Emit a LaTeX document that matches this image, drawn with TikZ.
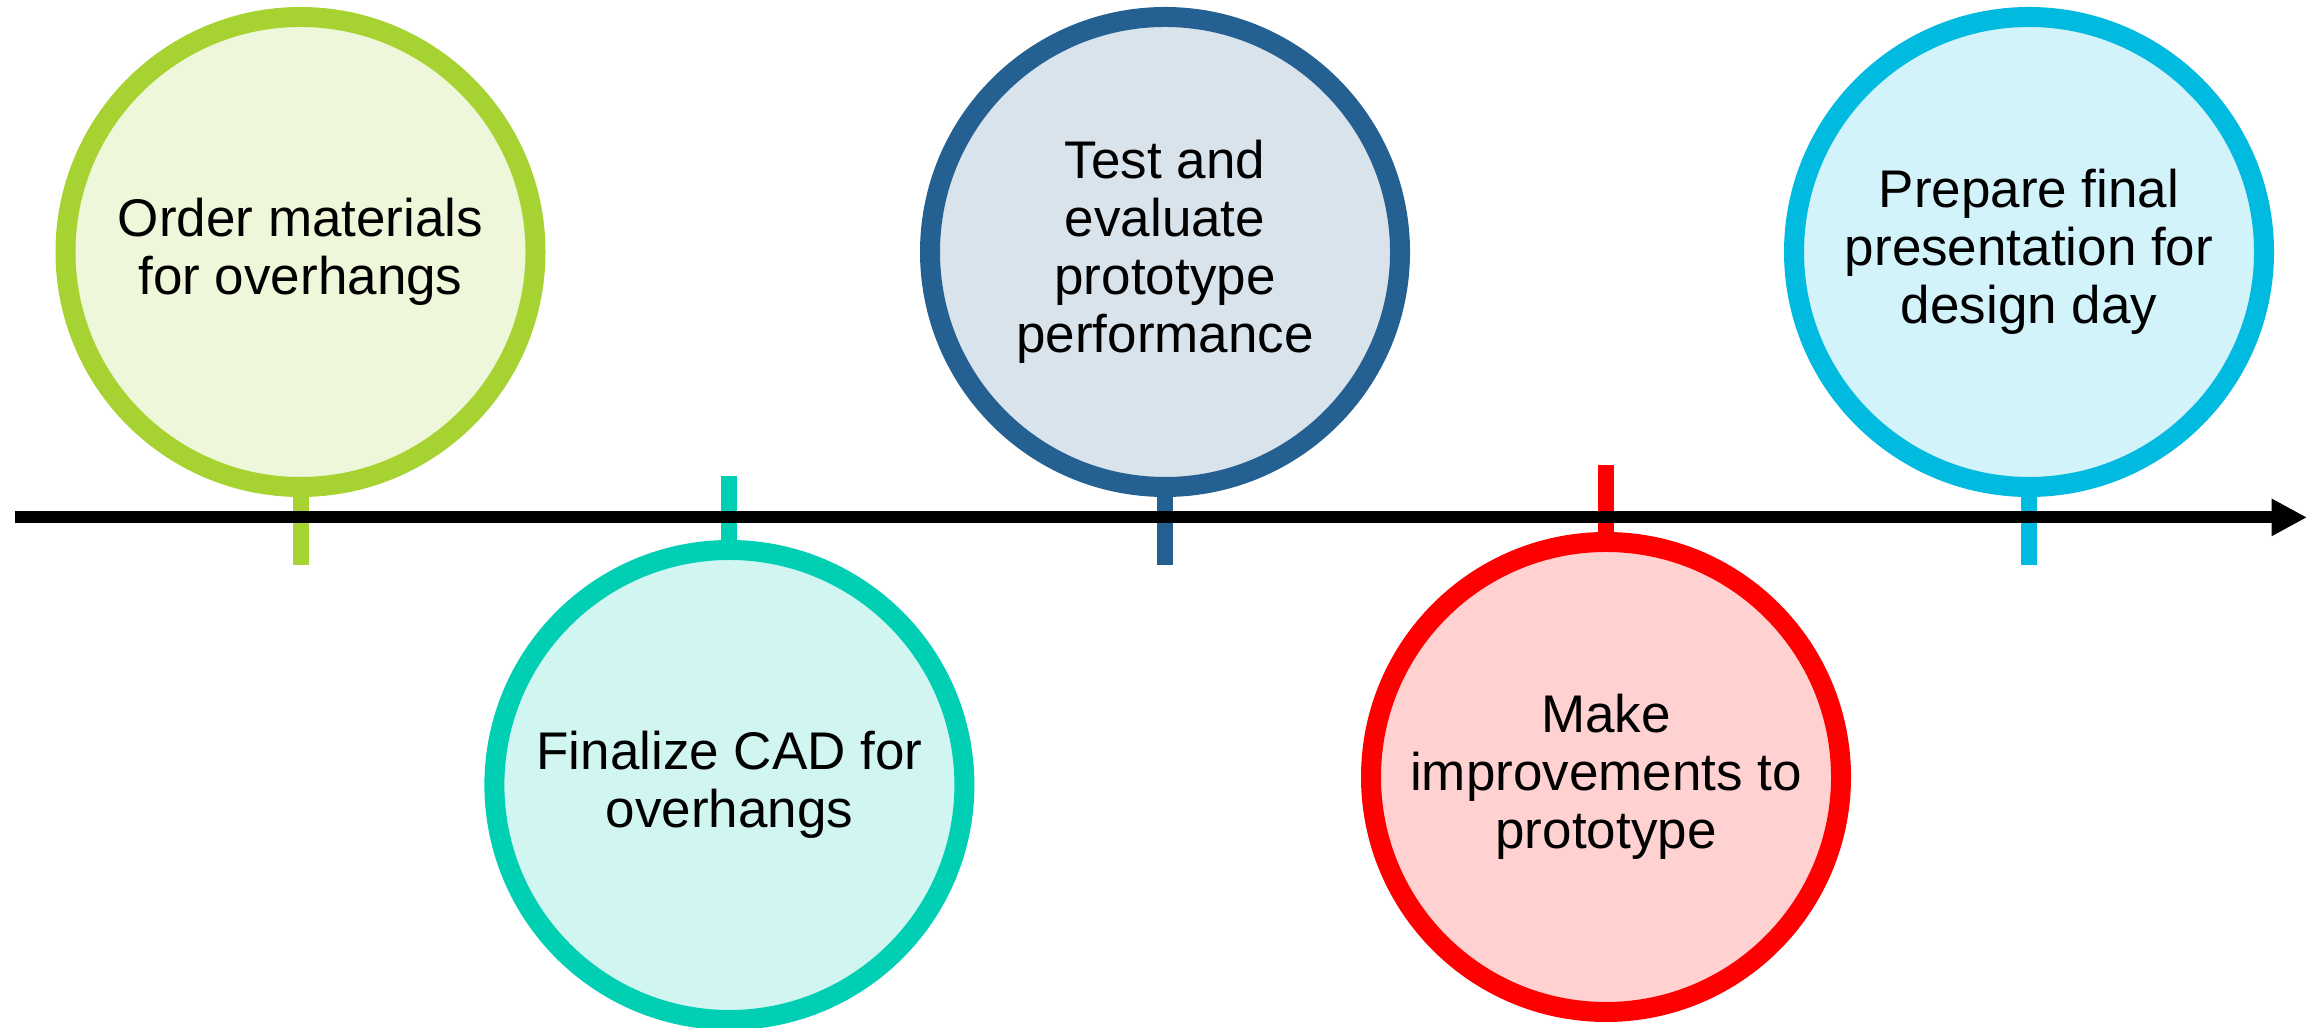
\documentclass[tikz,border=0pt]{standalone}
\usepackage{fontspec}
\setmainfont{Liberation Sans}
\usepackage{tikz}
\usetikzlibrary{arrows.meta, positioning}
\definecolor{phasegreen}{HTML}{A6D332}
\definecolor{phaseteal}{HTML}{00CFB4}
\definecolor{phaseblue}{HTML}{246192}
\definecolor{phasered}{HTML}{FF0000}
\definecolor{phasecyan}{HTML}{00BADF}

\begin{document}
\begin{tikzpicture}[
    phase_node/.style={circle, draw=#1, fill=#1!18, line width=0.2cm, minimum size=4.7cm, inner sep=0pt, align=center, font=\fontsize{15.08pt}{16.5pt}\selectfont},
    tick_line/.style={draw=#1, line width=0.16cm},
    axis_arrow/.style={-{Triangle[length=0.355cm, width=0.35cm]}, line width=0.122cm, draw=black}
]
\useasboundingbox (0,0) rectangle (23.21,10.28);

% Phases above the axis
\node[phase_node=phasegreen] (order) at (3.005,7.76) {Order materials\\for overhangs};
\node[phase_node=phaseblue] (test) at (11.65,7.76) {Test and\\evaluate\\prototype\\performance};
\node[phase_node=phasecyan] (present) at (20.29,7.76) {Prepare final\\presentation for\\design day};

% Phases below the axis
\node[phase_node=phaseteal] (cad) at (7.294,2.43) {Finalize CAD for\\overhangs};
\node[phase_node=phasered] (improve) at (16.06,2.51) {Make\\improvements to\\prototype};

% Tick ends
\coordinate (order_tick) at (3.005,4.63);
\coordinate (test_tick) at (11.65,4.63);
\coordinate (present_tick) at (20.29,4.63);
\coordinate (cad_tick) at (7.294,5.52);
\coordinate (improve_tick) at (16.06,5.63);

% Ticks
\draw[tick_line=phasegreen] (order.south) -- (order_tick);
\draw[tick_line=phaseblue] (test.south) -- (test_tick);
\draw[tick_line=phasecyan] (present.south) -- (present_tick);
\draw[tick_line=phaseteal] (cad.north) -- (cad_tick);
\draw[tick_line=phasered] (improve.north) -- (improve_tick);

% Time axis
\coordinate (axis_start) at (0.145,5.106);
\coordinate (axis_end) at (23.07,5.106);
\draw[axis_arrow] (axis_start) -- (axis_end);

\end{tikzpicture}
\end{document}
